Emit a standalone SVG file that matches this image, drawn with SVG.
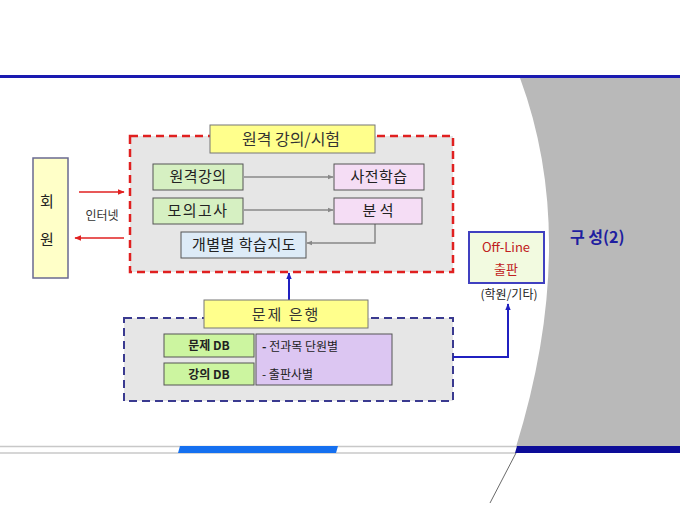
<svg xmlns="http://www.w3.org/2000/svg" width="680" height="510" viewBox="0 0 680 510">
<defs>
<style>
text{font-family:"Noto Sans CJK KR","Liberation Sans",sans-serif;fill:#222;}
.t{font-size:15px;text-anchor:middle;}
.box{stroke:#555;stroke-width:1;}
.g{fill:#D6F0C2;}
.p{fill:#F5DDF5;}
.y{fill:#FFFF8C;stroke:#777;stroke-width:1;}
.db{fill:#CCF5A0;stroke:#555;}
.ga{stroke:#888;stroke-width:1.5;fill:none;marker-end:url(#ag);}
.ra{stroke:#E02020;stroke-width:1.5;fill:none;marker-end:url(#ar);}
.ba{stroke:#2020C0;stroke-width:2;fill:none;marker-end:url(#ab);}
</style>
<marker id="ag" viewBox="0 0 10 10" refX="9" refY="5" markerWidth="6" markerHeight="6" orient="auto" markerUnits="userSpaceOnUse"><path d="M0,1 L10,5 L0,9 Z" fill="#888"/></marker>
<marker id="ar" viewBox="0 0 10 10" refX="9" refY="5" markerWidth="7" markerHeight="7" orient="auto" markerUnits="userSpaceOnUse"><path d="M0,1 L10,5 L0,9 Z" fill="#E02020"/></marker>
<marker id="ab" viewBox="0 0 10 10" refX="9" refY="5" markerWidth="7" markerHeight="7" orient="auto" markerUnits="userSpaceOnUse"><path d="M0,1 L10,5 L0,9 Z" fill="#2020C0"/></marker>
</defs>
<rect width="680" height="510" fill="#fff"/>
<g id="background">
<path d="M520,78 Q580,240 516,447 L680,447 L680,78 Z" fill="#B9B9B9"/>
<line x1="0" y1="76.5" x2="680" y2="76.5" stroke="#1A1AB0" stroke-width="3"/>
<line x1="0" y1="446.5" x2="516" y2="446.5" stroke="#C8C8C8" stroke-width="1.5"/>
<line x1="0" y1="453" x2="516" y2="453" stroke="#C8C8C8" stroke-width="1.5"/>
<polygon points="180,446 338,446 336,453 178,453" fill="#1570F0"/>
<polygon points="517,446 680,446 680,453 515,453" fill="#0C0C98"/>
<line x1="516" y1="453" x2="490" y2="503" stroke="#444" stroke-width="0.8"/>
<text x="570" y="243" style="font-size:16px;font-weight:bold;fill:#1E1EA0;">구 성(2)</text>
</g>
<g id="group-remote">
<rect x="130" y="136" width="323" height="136" fill="#E6E6E6" stroke="#E02020" stroke-width="2.5" stroke-dasharray="8,5"/>
</g>
<g id="group-bank">
<rect x="124" y="318" width="329" height="83" fill="#E6E6E6" stroke="#3A3A90" stroke-width="2" stroke-dasharray="8,5"/>
</g>
<g id="connectors">
<line class="ra" x1="79" y1="192" x2="124" y2="192"/>
<line class="ra" x1="124" y1="238" x2="75" y2="238"/>
<line class="ga" x1="244" y1="177" x2="333" y2="177"/>
<line class="ga" x1="244" y1="210" x2="333" y2="210"/>
<polyline class="ga" points="375,224 375,243 307,243"/>
<line class="ba" x1="289" y1="300" x2="289" y2="273"/>
<polyline class="ba" points="453,357 508,357 508,304"/>
</g>
<g id="member">
<rect x="33" y="158" width="35" height="120" fill="#FFFFC8" stroke="#6A6A90" stroke-width="1.5"/>
<text x="47" y="207" class="t">회</text>
<text x="47" y="245" class="t">원</text>
</g>
<g id="internet-label">
<text x="102" y="220" style="font-size:12px;text-anchor:middle;fill:#333;">인터넷</text>
</g>
<g id="title-remote">
<rect x="210" y="125" width="165" height="28" class="y"/>
<text x="291" y="145" class="t" style="font-size:16px;fill:#333;">원격 강의/시험</text>
</g>
<g id="remote-lecture">
<rect x="153" y="164" width="90" height="26" class="box g"/>
<text x="198" y="182" class="t" style="letter-spacing:0.5px;">원격강의</text>
</g>
<g id="pre-study">
<rect x="334" y="164" width="90" height="26" class="box p"/>
<text x="379" y="182" class="t" style="letter-spacing:0.5px;">사전학습</text>
</g>
<g id="mock-exam">
<rect x="153" y="198" width="90" height="26" class="box g"/>
<text x="198" y="216" class="t" style="letter-spacing:1.5px;">모의고사</text>
</g>
<g id="analysis">
<rect x="334" y="198" width="88" height="26" class="box p"/>
<text x="378" y="216" class="t">분 석</text>
</g>
<g id="individual-guide">
<rect x="181" y="232" width="125" height="26" fill="#DDEBF7" class="box"/>
<text x="244" y="250" class="t" style="letter-spacing:0.5px;">개별별 학습지도</text>
</g>
<g id="title-bank">
<rect x="204" y="300" width="164" height="28" class="y"/>
<text x="286" y="320" class="t" style="font-size:15px;fill:#333;letter-spacing:2px;">문제 은행</text>
</g>
<g id="question-db">
<rect x="164" y="334" width="90" height="23" class="db"/>
<text x="209" y="350" style="font-size:12px;font-weight:bold;text-anchor:middle;">문제 DB</text>
</g>
<g id="lecture-db">
<rect x="164" y="363" width="90" height="22" class="db"/>
<text x="209" y="379" style="font-size:12px;font-weight:bold;text-anchor:middle;">강의 DB</text>
</g>
<g id="categories">
<rect x="256" y="334" width="136" height="51" fill="#DCC6F2" stroke="#555"/>
<text x="262" y="351" style="font-size:12px;"><tspan style="font-weight:bold;">-</tspan> 전과목 단원별</text>
<text x="262" y="379" style="font-size:12px;">- 출판사별</text>
</g>
<g id="offline">
<rect x="469" y="232" width="75" height="51" fill="#F2FAE0" stroke="#4040C0" stroke-width="2"/>
<text x="506" y="252" style="font-size:13px;text-anchor:middle;fill:#C02020;">Off-Line</text>
<text x="506" y="274" style="font-size:13px;text-anchor:middle;fill:#C02020;">출판</text>
</g>
<g id="offline-label">
<text x="509" y="299" style="font-size:12px;text-anchor:middle;fill:#222;">(학원/기타)</text>
</g>
</svg>
